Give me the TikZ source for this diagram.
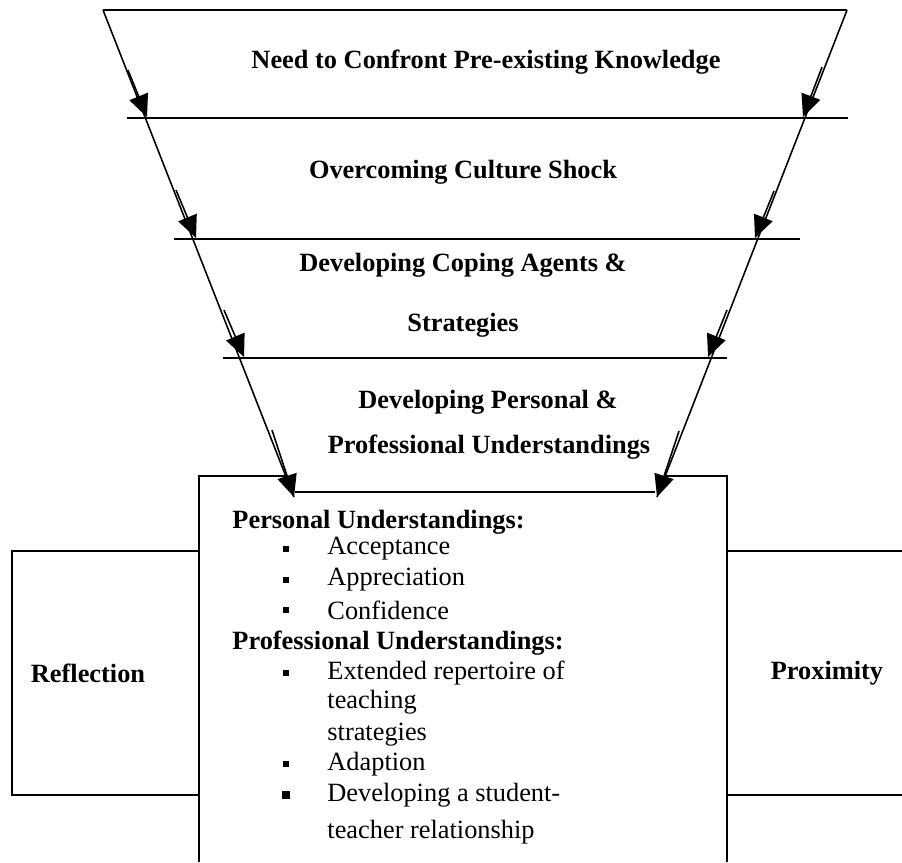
\documentclass[tikz,border=0pt]{standalone}
\usepackage{fontspec}
\setmainfont{Liberation Serif}
\usetikzlibrary{arrows.meta}

\begin{document}
\begin{tikzpicture}[
	txt/.style={font=\fontsize{12.5}{15}\selectfont, inner sep=0pt},
	head/.style={txt, font=\fontsize{12.5}{15}\selectfont\bfseries},
	sq/.style={fill=black, inner sep=0pt, minimum size=0.11cm},
	rule/.style={line width=0.75pt},
	flow/.style={line width=0.75pt, -{Triangle[length=0.37cm, width=0.33cm]}}
	]
		\useasboundingbox (0,0) rectangle (15.033,14.367);
		% corners of the funnel
		\coordinate (L0) at (1.717,14.2);
		\coordinate (R0) at (14.117,14.2);
		\coordinate (Lt) at (4.9,6.083);
		\coordinate (Rt) at (10.95,6.083);
		% centre box and the two side boxes
		\draw [rule] (3.317,0) -- (3.317,6.433) -- (12.117,6.433) -- (12.117,0);
		\draw [rule] (0.2,1.117) rectangle (3.317,5.183);
		\draw [rule] (15.033,5.183) -- (12.117,5.183);
		\draw [rule] (15.033,1.117) -- (12.117,1.117);
		\fill [white] (L0) -- (R0) -- (Rt) -- (Lt) -- cycle;
		% layers
		\draw [rule] (L0) -- (R0);
		\draw [rule] (2.117,12.4) -- (14.133,12.4);
		\draw [rule] (2.9,10.383) -- (13.333,10.383);
		\draw [rule] (3.717,8.4) -- (12.117,8.4);
		\draw [rule] (4.92,6.167) -- (10.92,6.167);
		% sides of the funnel
		\draw [rule] (L0) -- (Lt);
		\draw [rule] (R0) -- (Rt);
		\coordinate (a1) at (2.133,13.2);
		\coordinate (a2) at (2.45,12.417);
		\coordinate (a3) at (2.933,11.2);
		\coordinate (a4) at (3.267,10.4);
		\coordinate (a5) at (3.733,9.2);
		\coordinate (a6) at (4.067,8.417);
		\coordinate (a7) at (4.533,7.2);
		\draw [flow] (a1) -- (a2);
		\draw [flow] (a3) -- (a4);
		\draw [flow] (a5) -- (a6);
		\draw [flow] (a7) -- (Lt);
		\coordinate (b1) at (13.7,13.25);
		\coordinate (b2) at (13.383,12.417);
		\coordinate (b3) at (12.9,11.183);
		\coordinate (b4) at (12.583,10.4);
		\coordinate (b5) at (12.117,9.2);
		\coordinate (b6) at (11.8,8.417);
		\coordinate (b7) at (11.317,7.183);
		\draw [flow] (b1) -- (b2);
		\draw [flow] (b3) -- (b4);
		\draw [flow] (b5) -- (b6);
		\draw [flow] (b7) -- (Rt);
		% stage titles
		\node [head] (need) at (8.1,13.333) {Need to Confront Pre-existing Knowledge};
		\node [head] (shock) at (7.717,11.5) {Overcoming Culture Shock};
		\node [head] (coping) at (7.717,9.95) {Developing Coping Agents \&};
		\node [head] (copingb) at (7.717,8.95) {Strategies};
		\node [head] (dev) at (8.133,7.667) {Developing Personal \&};
		\node [head] (devb) at (8.15,6.917) {Professional Understandings};
		% outcomes
		\node [head, anchor=west] (pers) at (3.867,5.667) {Personal Understandings:};
		\node [sq] (q1) at (4.767,5.217) {};
		\node [txt, anchor=west] (acc) at (5.45,5.217) {Acceptance};
		\node [sq] (q2) at (4.767,4.7) {};
		\node [txt, anchor=west] (app) at (5.45,4.7) {Appreciation};
		\node [sq] (q3) at (4.767,4.2) {};
		\node [txt, anchor=west] (conf) at (5.45,4.2) {Confidence};
		\node [head, anchor=west] (prof) at (3.867,3.65) {Professional Understandings:};
		\node [sq] (q4) at (4.767,3.15) {};
		\node [txt, anchor=west] (ext) at (5.45,3.15) {Extended repertoire of};
		\node [txt, anchor=west] (extb) at (5.45,2.667) {teaching};
		\node [txt, anchor=west] (extc) at (5.45,2.117) {strategies};
		\node [sq] (q5) at (4.767,1.633) {};
		\node [txt, anchor=west] (adapt) at (5.45,1.633) {Adaption};
		\node [sq, minimum size=0.13cm] (q6) at (4.767,1.117) {};
		\node [txt, anchor=west] (stud) at (5.45,1.117) {Developing a student-};
		\node [txt, anchor=west] (studb) at (5.45,0.5) {teacher relationship};
		% side boxes
		\node [head] (refl) at (1.467,3.15) {Reflection};
		\node [head] (prox) at (13.783,3.15) {Proximity};
		\end{tikzpicture}
\end{document}
